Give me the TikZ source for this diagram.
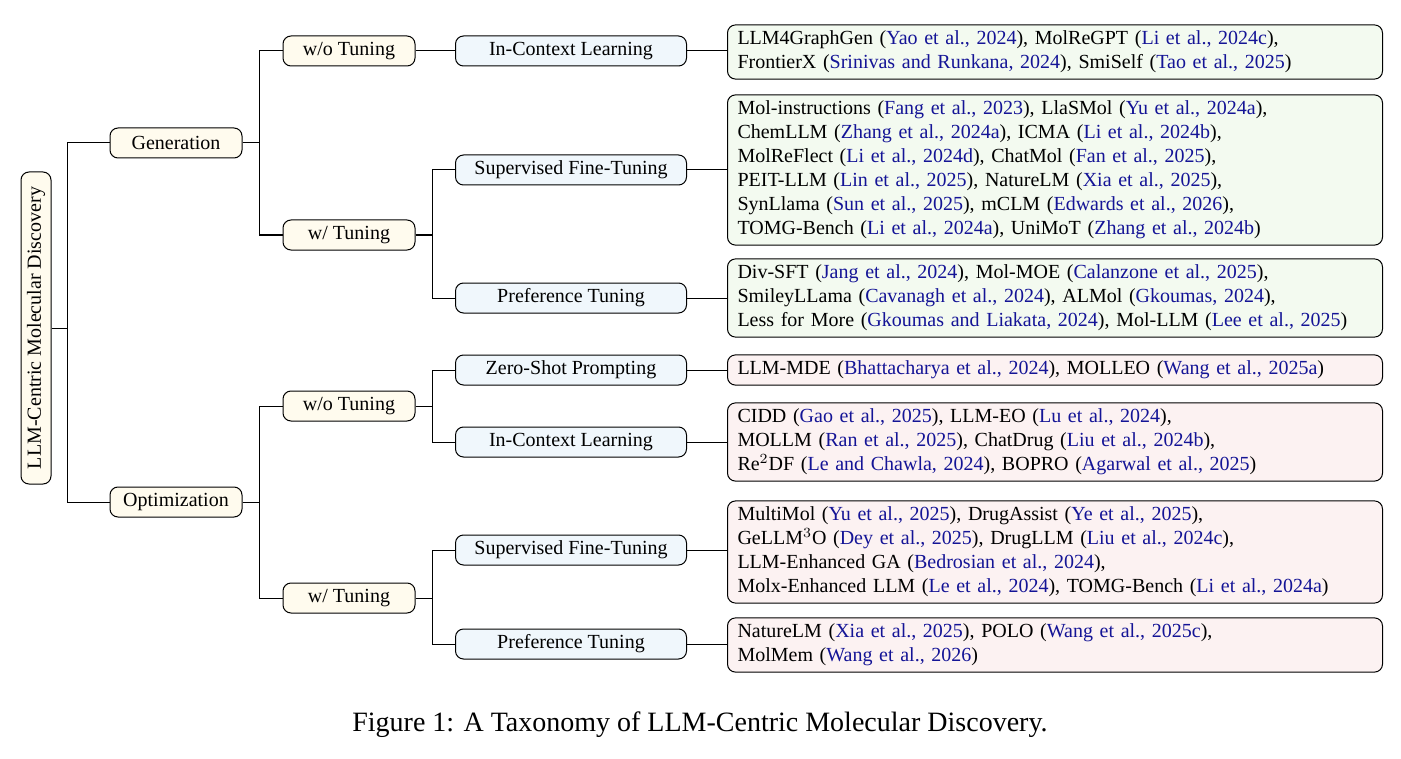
\documentclass[tikz,border=0pt]{standalone}
\usepackage{fontspec}
\setmainfont{Liberation Serif}
\usepackage{xcolor}
\usetikzlibrary{positioning}
\definecolor{citeblue}{RGB}{20,20,150}
\definecolor{catfill}{RGB}{255,251,238}
\definecolor{subfill}{RGB}{240,247,252}
\definecolor{genfill}{RGB}{243,250,240}
\definecolor{optfill}{RGB}{252,242,242}
\newcommand{\ct}[1]{(\textcolor{citeblue}{#1})}

\begin{document}
\begin{tikzpicture}[x=0.5pt, y=-0.5pt, font=\fontsize{10}{12}\selectfont]
\tikzset{
  box/.style={draw, rounded corners=4pt, line width=0.5pt, minimum height=15pt, inner sep=2pt},
  cat/.style={box, fill=catfill, minimum width=66pt},
  sub/.style={box, fill=subfill, minimum width=115.5pt},
  leaf/.style={box, align=left, text width=317.5pt, inner xsep=5pt, inner ysep=3pt},
  gleaf/.style={leaf, fill=genfill},
  oleaf/.style={leaf, fill=optfill},
  link/.style={line width=0.5pt}
}
\useasboundingbox (0,0) rectangle (1401,759);

% root and categories
\node [box, fill=catfill, rotate=90, minimum width=156pt] (root) at (36,328) {LLM-Centric Molecular Discovery};
\node [cat] (gen) at (176,143) {Generation};
\node [cat] (opt) at (176,502) {Optimization};

\node [cat] (gen-wo) at (349,51) {w/o Tuning};
\node [cat] (gen-w) at (349,235) {w/ Tuning};
\node [cat] (opt-wo) at (349,406) {w/o Tuning};
\node [cat] (opt-w) at (349,598) {w/ Tuning};

% methods
\node [sub] (gen-icl) at (571,51) {In-Context Learning};
\node [sub] (gen-sft) at (571,170) {Supervised Fine-Tuning};
\node [sub] (gen-pt) at (571,298) {Preference Tuning};
\node [sub] (opt-zs) at (571,370) {Zero-Shot Prompting};
\node [sub] (opt-icl) at (571,442) {In-Context Learning};
\node [sub] (opt-sft) at (571,550) {Supervised Fine-Tuning};
\node [sub] (opt-pt) at (571,644) {Preference Tuning};

% works
\node [gleaf, anchor=west] (gen-icl-l) at (727,52) {LLM4GraphGen \ct{Yao et al., 2024}, MolReGPT \ct{Li et al., 2024c},\\
FrontierX \ct{Srinivas and Runkana, 2024}, SmiSelf \ct{Tao et al., 2025}};
\node [gleaf, anchor=west] (gen-sft-l) at (727,170) {Mol-instructions \ct{Fang et al., 2023}, LlaSMol \ct{Yu et al., 2024a},\\
ChemLLM \ct{Zhang et al., 2024a}, ICMA \ct{Li et al., 2024b},\\
MolReFlect \ct{Li et al., 2024d}, ChatMol \ct{Fan et al., 2025},\\
PEIT-LLM \ct{Lin et al., 2025}, NatureLM \ct{Xia et al., 2025},\\
SynLlama \ct{Sun et al., 2025}, mCLM \ct{Edwards et al., 2026},\\
TOMG-Bench \ct{Li et al., 2024a}, UniMoT \ct{Zhang et al., 2024b}};
\node [gleaf, anchor=west] (gen-pt-l) at (727,298) {Div-SFT \ct{Jang et al., 2024}, Mol-MOE \ct{Calanzone et al., 2025},\\
SmileyLLama \ct{Cavanagh et al., 2024}, ALMol \ct{Gkoumas, 2024},\\
Less for More \ct{Gkoumas and Liakata, 2024}, Mol-LLM \ct{Lee et al., 2025}};
\node [oleaf, anchor=west] (opt-zs-l) at (727,370) {LLM-MDE \ct{Bhattacharya et al., 2024}, MOLLEO \ct{Wang et al., 2025a}};
\node [oleaf, anchor=west] (opt-icl-l) at (727,442) {CIDD \ct{Gao et al., 2025}, LLM-EO \ct{Lu et al., 2024},\\
MOLLM \ct{Ran et al., 2025}, ChatDrug \ct{Liu et al., 2024b},\\
Re$^2$DF \ct{Le and Chawla, 2024}, BOPRO \ct{Agarwal et al., 2025}};
\node [oleaf, anchor=west] (opt-sft-l) at (727,552) {MultiMol \ct{Yu et al., 2025}, DrugAssist \ct{Ye et al., 2025},\\
GeLLM$^3$O \ct{Dey et al., 2025}, DrugLLM \ct{Liu et al., 2024c},\\
LLM-Enhanced GA \ct{Bedrosian et al., 2024},\\
Molx-Enhanced LLM \ct{Le et al., 2024}, TOMG-Bench \ct{Li et al., 2024a}};
\node [oleaf, anchor=west] (opt-pt-l) at (727,645) {NatureLM \ct{Xia et al., 2025}, POLO \ct{Wang et al., 2025c},\\
MolMem \ct{Wang et al., 2026}};

% tree links
\foreach \c in {gen, opt}
  \draw [link] (root.south) -- ++(8pt,0) |- (\c.west);
\foreach \p/\c in {gen/gen-wo, gen/gen-w, opt/opt-wo, opt/opt-w,
  gen-w/gen-sft, gen-w/gen-pt, opt-wo/opt-zs, opt-wo/opt-icl, opt-w/opt-sft, opt-w/opt-pt}
  \draw [link] (\p.east) -- ++(8.5pt,0) |- (\c.west);
\draw [link] (gen-wo) -- (gen-icl);
\foreach \m in {gen-icl, gen-sft, gen-pt, opt-zs, opt-icl, opt-sft, opt-pt}
  \draw [link] (\m.east) -- (\m.east -| \m-l.west);

\node (caption) at (700,725) {\fontsize{14}{16}\selectfont Figure 1: A Taxonomy of LLM-Centric Molecular Discovery.};
\end{tikzpicture}
\end{document}
